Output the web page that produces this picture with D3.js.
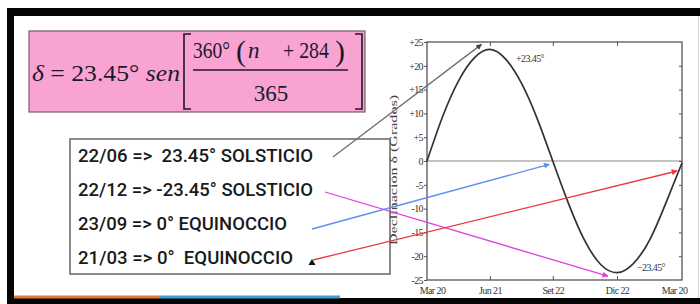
<!DOCTYPE html>
<html>
<head>
<meta charset="utf-8">
<script src="https://cdn.jsdelivr.net/npm/d3@7/dist/d3.min.js"></script>
<style>
  body { margin: 0; background: #fff; }
  text { white-space: pre; }
</style>
</head>
<body>
<div id="chart"></div>
<script>
// Curve readings: day counted from Mar 20, declination in degrees
const days = [0, 22, 45, 68, 90, 112, 135, 158, 180, 203, 226, 249, 272, 295, 319, 342, 365];
const declination = [0, 9.2, 16.8, 21.7, 23.45, 21.5, 16.4, 8.8, 0, -9.1, -16.8, -21.8, -23.45, -21.6, -16.5, -8.8, -0.4];

const xTickDays = [0, 90, 180, 272, 365];
const xTickLabels = ["Mar 20", "Jun 21", "Set 22", "Dic 22", "Mar 20"];
const yTickValues = [25, 20, 15, 10, 5, 0, -5, -10, -15, -20, -25];
const yTickLabels = ["+25", "+20", "+15", "+10", "+5", "0", "-5", "-10", "-15", "-20", "-25"];

const legendLines = [
  "22/06 =>  23.45° SOLSTICIO",
  "22/12 => -23.45° SOLSTICIO",
  "23/09 => 0° EQUINOCCIO",
  "21/03 => 0°  EQUINOCCIO"
];
// points on the curve that each legend line points to (day, degrees)
const arrowDays = [78, 259, 175, 358];
const arrowValues = [24.5, -24.2, -0.7, -2.1];
const arrowColors = ["#6f6f6f", "#e040dc", "#5b8ff0", "#ec3a3a"];

const svg = d3.select("#chart").append("svg")
  .attr("width", 700)
  .attr("height", 304);

// frame of the slide
svg.append("rect").attr("x", 7).attr("y", 8).attr("width", 693).attr("height", 8).attr("fill", "#050505");
svg.append("rect").attr("x", 7).attr("y", 8).attr("width", 7).attr("height", 296).attr("fill", "#050505");
svg.append("rect").attr("x", 7).attr("y", 298).attr("width", 693).attr("height", 6).attr("fill", "#050505");
svg.append("rect").attr("x", 14).attr("y", 295.5).attr("width", 146).attr("height", 3).attr("fill", "#e07b39");
svg.append("rect").attr("x", 160).attr("y", 295.5).attr("width", 180).attr("height", 3).attr("fill", "#3d9bd8");
svg.append("line").attr("x1", 698.5).attr("x2", 698.5).attr("y1", 16).attr("y2", 298)
  .attr("stroke", "#d8d8d8");

// formula box
svg.append("rect").attr("x", 29).attr("y", 31).attr("width", 336).attr("height", 81)
  .attr("fill", "#f8a3d2").attr("stroke", "#7a5a6a").attr("stroke-width", 1.2);

const f = svg.append("g")
  .attr("font-family", "'Liberation Serif', 'DejaVu Serif', serif")
  .attr("font-size", 23)
  .attr("fill", "#1c1a2a");

const t1 = f.append("text").attr("x", 32).attr("y", 81)
  .attr("textLength", 148).attr("lengthAdjust", "spacingAndGlyphs");
t1.append("tspan").attr("font-style", "italic").text("δ");
t1.append("tspan").text(" = 23.45° ");
t1.append("tspan").attr("font-style", "italic").text("sen");

f.append("text").attr("x", 193).attr("y", 58).attr("textLength", 37).attr("lengthAdjust", "spacingAndGlyphs").text("360°");
f.append("text").attr("x", 236).attr("y", 61).attr("font-size", 30).text("(");
f.append("text").attr("x", 248).attr("y", 58).attr("font-style", "italic").text("n");
f.append("text").attr("x", 283).attr("y", 58).attr("textLength", 46).attr("lengthAdjust", "spacingAndGlyphs").text("+ 284");
f.append("text").attr("x", 335).attr("y", 61).attr("font-size", 30).text(")");
f.append("line").attr("x1", 193).attr("x2", 348).attr("y1", 70).attr("y2", 70)
  .attr("stroke", "#1c1a2a").attr("stroke-width", 1.3);
f.append("text").attr("x", 271).attr("y", 101).attr("text-anchor", "middle").text("365");
f.append("path").attr("d", "M191,34H184V109H191").attr("fill", "none")
  .attr("stroke", "#1c1a2a").attr("stroke-width", 1.6);
f.append("path").attr("d", "M355,34H362V109H355").attr("fill", "none")
  .attr("stroke", "#1c1a2a").attr("stroke-width", 1.6);

// legend box
svg.append("rect").attr("x", 70).attr("y", 139).attr("width", 320).attr("height", 135)
  .attr("fill", "#fff").attr("stroke", "#666").attr("stroke-width", 1.5);

const legendWidths = [235, 235, 209, 215];
svg.append("g")
  .selectAll("text")
  .data(legendLines)
  .join("text")
  .attr("x", 78)
  .attr("y", (d, i) => 162 + i * 34)
  .attr("font-family", "Roboto, 'Liberation Sans', sans-serif")
  .attr("font-weight", 500)
  .attr("font-size", 17.5)
  .attr("fill", "#1a1a1a")
  .attr("textLength", (d, i) => legendWidths[i])
  .attr("lengthAdjust", "spacingAndGlyphs")
  .text((d) => d);

// chart scales
const x = d3.scaleLinear().domain([0, 365]).range([427, 682]);
const y = d3.scaleLinear().domain([-25, 25]).range([280, 42]);

const axisFont = "'Liberation Serif', 'DejaVu Serif', serif";

// zero line
svg.append("line")
  .attr("x1", x(0)).attr("x2", x(365))
  .attr("y1", y(0)).attr("y2", y(0))
  .attr("stroke", "#8a8a8a").attr("stroke-width", 1.2);

const gLeft = svg.append("g").attr("transform", `translate(${x(0)},0)`)
  .call(d3.axisLeft(y).tickValues(yTickValues).tickSize(3).tickPadding(1)
    .tickFormat((d, i) => yTickLabels[i]));
const gRight = svg.append("g").attr("transform", `translate(${x(365)},0)`)
  .call(d3.axisRight(y).tickValues(yTickValues.slice(1, -1)).tickSize(-3).tickFormat(""));
const gTop = svg.append("g").attr("transform", `translate(0,${y(25)})`)
  .call(d3.axisTop(x).tickValues(xTickDays.slice(1, -1)).tickSize(-4).tickFormat(""));
const gBottom = svg.append("g").attr("transform", `translate(0,${y(-25)})`)
  .call(d3.axisBottom(x).tickValues(xTickDays).tickSize(-4).tickPadding(7)
    .tickFormat((d, i) => xTickLabels[i]));

[gLeft, gRight, gTop, gBottom].forEach((g) => {
  g.select(".domain").remove();
  g.selectAll(".tick line").attr("stroke", "#555").attr("stroke-width", 1);
  g.selectAll("text")
    .attr("font-family", axisFont)
    .attr("font-size", 10)
    .attr("letter-spacing", -0.6)
    .attr("fill", "#333");
});
gBottom.selectAll(".tick").filter((d) => d === 0 || d === 365).select("line").remove();
gBottom.selectAll(".tick text").attr("dx", (d) => (d === 0 ? 5 : d === 365 ? -8 : 0));

// plot frame
svg.append("rect")
  .attr("x", x(0)).attr("y", y(25))
  .attr("width", x(365) - x(0)).attr("height", y(-25) - y(25))
  .attr("fill", "none").attr("stroke", "#555").attr("stroke-width", 1.3);

// axis title
svg.append("text")
  .attr("transform", "translate(397,170) rotate(-90)")
  .attr("text-anchor", "middle")
  .attr("font-family", axisFont)
  .attr("font-size", 10)
  .attr("fill", "#444")
  .attr("textLength", 150)
  .attr("lengthAdjust", "spacingAndGlyphs")
  .text("Declinación δ (Grados)");

// declination curve
const line = d3.line()
  .x((d, i) => x(days[i]))
  .y((d) => y(d))
  .curve(d3.curveNatural);

svg.append("path")
  .datum(declination)
  .attr("d", line)
  .attr("fill", "none")
  .attr("stroke", "#333")
  .attr("stroke-width", 1.7);

// extremes labels
svg.append("text").attr("x", 516).attr("y", 62)
  .attr("font-family", axisFont).attr("font-size", 10).attr("letter-spacing", -0.6).attr("fill", "#333")
  .text("+23.45°");
svg.append("text").attr("x", 637).attr("y", 271)
  .attr("font-family", axisFont).attr("font-size", 10).attr("letter-spacing", -0.6).attr("fill", "#333")
  .text("−23.45°");

// arrows from legend to curve
const defs = svg.append("defs");
arrowColors.forEach((c, i) => {
  defs.append("marker")
    .attr("id", "arrow" + i)
    .attr("viewBox", "0 0 10 10")
    .attr("refX", 9).attr("refY", 5)
    .attr("markerWidth", 6).attr("markerHeight", 6)
    .attr("markerUnits", "userSpaceOnUse")
    .attr("orient", "auto")
    .append("path")
    .attr("d", "M0,0L10,5L0,10Z")
    .attr("fill", i === 0 ? "#444" : c);
});

const arrowStarts = [[333, 157], [325, 192], [312, 229], [313, 260]];
svg.append("g")
  .selectAll("line")
  .data(arrowColors)
  .join("line")
  .attr("x1", (d, i) => arrowStarts[i][0])
  .attr("y1", (d, i) => arrowStarts[i][1])
  .attr("x2", (d, i) => x(arrowDays[i]))
  .attr("y2", (d, i) => y(arrowValues[i]))
  .attr("stroke", (d) => d)
  .attr("stroke-width", 1.3)
  .attr("marker-end", (d, i) => `url(#arrow${i})`);

// small black triangle after the last legend line
svg.append("path")
  .attr("d", d3.symbol(d3.symbolTriangle, 22)())
  .attr("transform", "translate(312,263)")
  .attr("fill", "#111");
</script>
</body>
</html>
